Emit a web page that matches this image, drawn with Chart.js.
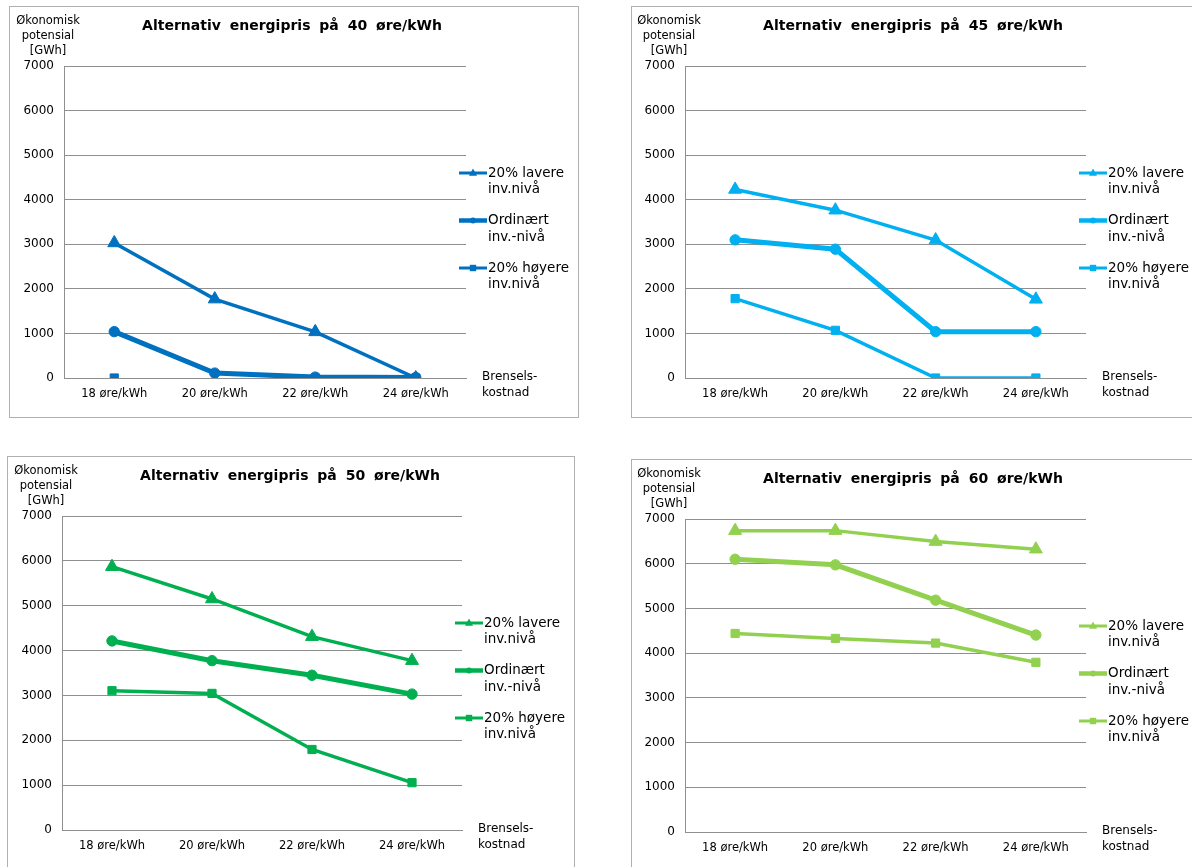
<!DOCTYPE html>
<html>
<head>
<meta charset="utf-8">
<script src="https://cdn.jsdelivr.net/npm/chart.js@4.4.1/dist/chart.umd.min.js"></script>
<style>
  html, body { margin: 0; padding: 0; background: #fff; width: 1192px; height: 867px; overflow: hidden; }
  .box { position: absolute; box-sizing: border-box; border: 1px solid #b0b0b0; background: #fff; }
  .box canvas { position: absolute; left: 0; top: 0; }
</style>
</head>
<body>
<div class="box" id="box40" style="left:9px;top:6px;width:570px;height:412px"><canvas id="c40"></canvas></div>
<div class="box" id="box45" style="left:631px;top:6px;width:600px;height:412px"><canvas id="c45"></canvas></div>
<div class="box" id="box50" style="left:7px;top:456px;width:568px;height:420px"><canvas id="c50"></canvas></div>
<div class="box" id="box60" style="left:631px;top:459px;width:600px;height:420px"><canvas id="c60"></canvas></div>
<script>
// Fuel cost categories and y-axis ticks
const categories = ['18 øre/kWh', '20 øre/kWh', '22 øre/kWh', '24 øre/kWh'];
const yTicks = [0, 1000, 2000, 3000, 4000, 5000, 6000, 7000];
const yTitleLines = ['Økonomisk', 'potensial', '[GWh]'];
const xTitleLines = ['Brensels-', 'kostnad'];
const seriesLines = [['20% lavere', 'inv.nivå'], ['Ordinært', 'inv.-nivå'], ['20% høyere', 'inv.nivå']];

// Economic potential [GWh], alternative energy price 40 øre/kWh
const lavere40 = [3030, 1770, 1035, 0];
const ordinaert40 = [1040, 110, 20, 10];
const hoyere40 = [0, null, 0, 0];

// 45 øre/kWh
const lavere45 = [4230, 3765, 3095, 1765];
const ordinaert45 = [3100, 2890, 1040, 1040];
const hoyere45 = [1780, 1070, 0, 0];

// 50 øre/kWh
const lavere50 = [5870, 5150, 4310, 3775];
const ordinaert50 = [4215, 3775, 3450, 3030];
const hoyere50 = [3105, 3045, 1795, 1055];

// 60 øre/kWh
const lavere60 = [6740, 6740, 6495, 6325];
const ordinaert60 = [6100, 5975, 5185, 4405];
const hoyere60 = [4440, 4330, 4225, 3795];

const FONT = '"DejaVu Sans", Verdana, sans-serif';
const GRID = '#8f8f8f';

function drawMarker(ctx, style, x, y, r) {
  ctx.beginPath();
  if (style === 'triangle') {
    ctx.moveTo(x, y - r);
    ctx.lineTo(x + r * 0.9, y + r * 0.6);
    ctx.lineTo(x - r * 0.9, y + r * 0.6);
    ctx.closePath();
  } else if (style === 'circle') {
    ctx.arc(x, y, r, 0, Math.PI * 2);
  } else {
    ctx.rect(x - r, y - r, 2 * r, 2 * r);
  }
  ctx.fill();
}

// Title, axis captions and the line+marker legend
const decorations = {
  id: 'decorations',
  afterDraw(chart, args, opts) {
    const { ctx, chartArea: a } = chart;
    ctx.save();
    ctx.fillStyle = '#000';
    ctx.textBaseline = 'middle';

    ctx.textAlign = 'center';
    ctx.font = 'bold 14px ' + FONT;
    try { ctx.wordSpacing = '4px'; } catch (e) {}
    ctx.fillText(opts.title, a.left + 228, a.top - 40);
    try { ctx.wordSpacing = '0px'; } catch (e) {}

    ctx.font = '11.5px ' + FONT;
    yTitleLines.forEach((t, i) => ctx.fillText(t, a.left - 16, a.top - 45 + i * 15));

    ctx.textAlign = 'left';
    ctx.font = '12px ' + FONT;
    xTitleLines.forEach((t, i) => ctx.fillText(t, a.right + 16, a.bottom - 1 + i * 15.5));

    const legendMarkers = [['triangle', 4.5], ['circle', 3], ['rect', 3.2]];
    chart.data.datasets.forEach((ds, i) => {
      const y = a.top + 107 + i * 47.5;
      const x0 = a.right - 7;
      ctx.strokeStyle = ds.borderColor;
      ctx.fillStyle = ds.borderColor;
      ctx.lineWidth = i === 1 ? 4.5 : 3;
      ctx.beginPath();
      ctx.moveTo(x0, y);
      ctx.lineTo(x0 + 28, y);
      ctx.stroke();
      drawMarker(ctx, legendMarkers[i][0], x0 + 14, y, legendMarkers[i][1]);
      ctx.fillStyle = '#000';
      ctx.font = '13.5px ' + FONT;
      seriesLines[i].forEach((t, j) => ctx.fillText(t, x0 + 29, y + j * 16.5));
    });
    ctx.restore();
  }
};

function buildChart(canvasId, boxId, title, color, lavere, ordinaert, hoyere, area) {
  const box = document.getElementById(boxId);
  const canvas = document.getElementById(canvasId);
  const bx = box.offsetLeft + 1, by = box.offsetTop + 1;
  const W = box.offsetWidth - 2, H = box.offsetHeight - 2;
  canvas.width = W; canvas.height = H;
  canvas.style.width = W + 'px'; canvas.style.height = H + 'px';
  const l = area.l - bx, t = area.t - by, r = area.r - bx, b = area.b - by;

  const series = (label, data, style, radius, width) => ({
    label, data,
    borderColor: color, backgroundColor: color,
    borderWidth: width,
    pointStyle: style, pointRadius: radius,
    pointBackgroundColor: color, pointBorderColor: color, pointBorderWidth: 1,
    tension: 0, spanGaps: false
  });

  return new Chart(canvas, {
    type: 'line',
    data: {
      labels: categories,
      datasets: [
        series(seriesLines[0].join(' '), lavere, 'triangle', 7.5, 3.5),
        series(seriesLines[1].join(' '), ordinaert, 'circle', 5.2, 5),
        series(seriesLines[2].join(' '), hoyere, 'rect', 5.8, 3.5)
      ]
    },
    options: {
      responsive: false,
      animation: false,
      devicePixelRatio: 1,
      layout: { padding: { left: 0, top: t, right: W - r, bottom: 0 } },
      plugins: {
        legend: { display: false },
        tooltip: { enabled: false },
        title: { display: false },
        decorations: { title }
      },
      scales: {
        x: {
          type: 'category',
          offset: true,
          grid: { display: false, drawTicks: false },
          border: { display: true, color: GRID, width: 1 },
          ticks: { color: '#000', font: { family: FONT, size: 11.5 }, padding: 9, maxRotation: 0, autoSkip: false },
          afterFit(s) { s.height = H - b; }
        },
        y: {
          min: yTicks[0],
          max: yTicks[yTicks.length - 1],
          afterBuildTicks(s) { s.ticks = yTicks.map(v => ({ value: v })); },
          grid: { color: GRID, lineWidth: 1, drawTicks: false },
          border: { display: true, color: GRID, width: 1 },
          ticks: { color: '#000', font: { family: FONT, size: 12 }, padding: 10, callback: v => String(v) },
          afterFit(s) { s.width = l; }
        }
      }
    },
    plugins: [decorations]
  });
}

buildChart('c40', 'box40', 'Alternativ energipris på 40 øre/kWh', '#0070C0',
  lavere40, ordinaert40, hoyere40, { l: 64, t: 66, r: 466, b: 378 });
buildChart('c45', 'box45', 'Alternativ energipris på 45 øre/kWh', '#00B0F0',
  lavere45, ordinaert45, hoyere45, { l: 685, t: 66, r: 1086, b: 378 });
buildChart('c50', 'box50', 'Alternativ energipris på 50 øre/kWh', '#00B050',
  lavere50, ordinaert50, hoyere50, { l: 62, t: 516, r: 462, b: 830 });
buildChart('c60', 'box60', 'Alternativ energipris på 60 øre/kWh', '#92D050',
  lavere60, ordinaert60, hoyere60, { l: 685, t: 519, r: 1086, b: 832 });
</script>
</body>
</html>
